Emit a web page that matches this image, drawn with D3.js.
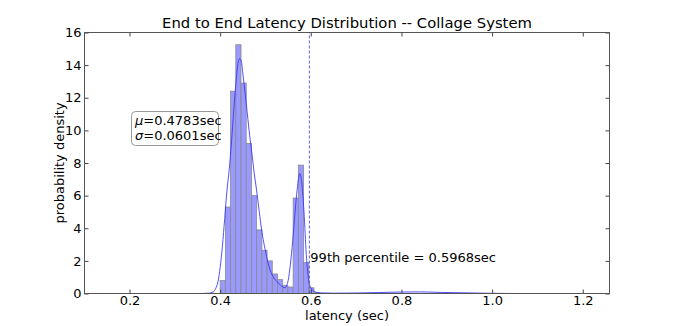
<!doctype html>
<html lang="en">
    <head>
        <meta charset="utf-8">
        <title>End to End Latency Distribution</title>
        <script src="https://cdn.jsdelivr.net/npm/d3@7"></script>
        <style>
            body { margin: 0; background: #fff; }
            text { font-family: "DejaVu Sans", sans-serif; fill: #000; }
        </style>
    </head>
    <body>
        <script>
            // histogram: bins of equal width starting at binStart
            var binStart = 0.400;
            var binWidth = 0.0115;
            var density = [0.8, 5.3, 12.4, 15.25, 12.9, 9.2, 6.0, 3.9, 2.65, 2.0,
                           1.2, 0.85, 0.5, 0.4, 5.85, 7.87, 1.9, 0.35, 0.05];
            // smoothed density curve
            var kdeX = [0.10, 0.36, 0.375, 0.385, 0.39, 0.395, 0.40, 0.405, 0.41, 0.415, 0.42, 0.425,
                        0.43, 0.435, 0.44, 0.443, 0.447, 0.45, 0.455, 0.46, 0.465, 0.47, 0.475,
                        0.48, 0.485, 0.49, 0.495, 0.50, 0.505, 0.51, 0.52, 0.53, 0.543, 0.55,
                        0.555, 0.56, 0.565, 0.57, 0.5757, 0.58, 0.585, 0.59, 0.595, 0.60, 0.61,
                        0.62, 0.65, 0.70, 0.75, 0.80, 0.84, 0.88, 0.92, 0.96, 1.0, 1.05, 1.259];
            var kdeY = [0, 0, 0.02, 0.1, 0.3, 0.7, 1.6, 2.9, 4.6, 6.3, 7.6, 9.3,
                        11.2, 13.0, 14.2, 14.4, 14.2, 13.5, 12.3, 11.0, 9.7, 8.6, 7.4,
                        6.4, 5.3, 4.2, 3.3, 2.6, 1.95, 1.45, 0.9, 0.6, 0.35, 0.8,
                        1.8, 3.2, 4.9, 6.4, 7.36, 6.8, 5.0, 2.4, 0.9, 0.35, 0.1,
                        0.04, 0.02, 0.03, 0.06, 0.09, 0.1, 0.07, 0.05, 0.03, 0.01, 0, 0];
            var xTicks = [0.2, 0.4, 0.6, 0.8, 1.0, 1.2];
            var yTicks = [0, 2, 4, 6, 8, 10, 12, 14, 16];
            var pct99 = 0.5968;
            var mu = "0.4783", sigma = "0.0601";

            var svgW = 677, svgH = 326;
            var margin = {top: 32.5, right: 67.5, bottom: 32.5, left: 84.5};

            var xScale = d3.scaleLinear()
                           .domain([0.1007, 1.259])
                           .range([margin.left, svgW - margin.right]);
            var yScale = d3.scaleLinear()
                           .domain([0, 16])
                           .range([svgH - margin.bottom, margin.top]);

            var svg = d3.select("body")
                        .append("svg")
                        .attr("width", svgW)
                        .attr("height", svgH);

            var plot = svg.append("g");
            plot.append("clipPath").attr("id", "clip")
                .append("rect")
                .attr("x", margin.left).attr("y", margin.top)
                .attr("width", xScale.range()[1] - margin.left)
                .attr("height", yScale.range()[0] - margin.top);

            var inner = plot.append("g").attr("clip-path", "url(#clip)");

            inner.selectAll("rect.bar")
                 .data(density)
                 .enter()
                 .append("rect")
                 .attr("class", "bar")
                 .attr("x", (d, i) => xScale(binStart + i * binWidth))
                 .attr("y", d => yScale(d))
                 .attr("width", xScale(binStart + binWidth) - xScale(binStart))
                 .attr("height", d => yScale(0) - yScale(d))
                 .attr("fill", "#9999ff")
                 .attr("stroke", "#8a8a8a")
                 .attr("stroke-width", 0.8);

            var kde = d3.zip(kdeX, kdeY);
            var line = d3.line()
                         .x(d => xScale(d[0]))
                         .y(d => yScale(d[1]))
                         .curve(d3.curveMonotoneX);
            inner.append("path")
                 .datum(kde)
                 .attr("d", line)
                 .attr("fill", "none")
                 .attr("stroke", "#3333ff")
                 .attr("stroke-opacity", 0.85)
                 .attr("stroke-width", 1);

            inner.append("line")
                 .attr("x1", xScale(pct99)).attr("x2", xScale(pct99))
                 .attr("y1", yScale(0)).attr("y2", yScale(16))
                 .attr("stroke", "#4d4dcc")
                 .attr("stroke-width", 0.9)
                 .attr("stroke-dasharray", "3,2");

            // axes with inward ticks on all four sides
            var x0 = xScale.range()[0], x1 = xScale.range()[1];
            var y0 = yScale.range()[0], y1 = yScale.range()[1];

            svg.append("g")
               .attr("transform", "translate(0," + y0 + ")")
               .call(d3.axisBottom(xScale).tickValues(xTicks).tickFormat(d3.format(".1f")).tickSizeInner(-4).tickSizeOuter(0).tickPadding(2))
               .call(g => g.select(".domain").remove());
            svg.append("g")
               .attr("transform", "translate(0," + y1 + ")")
               .call(d3.axisTop(xScale).tickValues(xTicks).tickFormat("").tickSizeInner(-4).tickSizeOuter(0))
               .call(g => g.select(".domain").remove());
            svg.append("g")
               .attr("transform", "translate(" + x0 + ",0)")
               .call(d3.axisLeft(yScale).tickValues(yTicks).tickSizeInner(-4).tickSizeOuter(0).tickPadding(3))
               .call(g => g.select(".domain").remove());
            svg.append("g")
               .attr("transform", "translate(" + x1 + ",0)")
               .call(d3.axisRight(yScale).tickValues(yTicks).tickFormat("").tickSizeInner(-4).tickSizeOuter(0))
               .call(g => g.select(".domain").remove());

            svg.selectAll(".tick text")
               .attr("font-size", "13px")
               .attr("font-family", "DejaVu Sans, sans-serif")
               .attr("fill", "#000");
            svg.selectAll(".tick line").attr("stroke", "#444");

            svg.append("rect")
               .attr("x", x0).attr("y", y1)
               .attr("width", x1 - x0).attr("height", y0 - y1)
               .attr("fill", "none")
               .attr("stroke", "#555")
               .attr("stroke-width", 1);

            svg.append("text")
               .attr("x", (x0 + x1) / 2)
               .attr("y", 28)
               .attr("text-anchor", "middle")
               .attr("font-size", "14.8px")
               .text("End to End Latency Distribution -- Collage System");

            svg.append("text")
               .attr("x", (x0 + x1) / 2)
               .attr("y", 320)
               .attr("text-anchor", "middle")
               .attr("font-size", "13px")
               .text("latency (sec)");

            svg.append("text")
               .attr("transform", "translate(64," + (y0 + y1) / 2 + ") rotate(-90)")
               .attr("text-anchor", "middle")
               .attr("font-size", "13px")
               .text("probability density");

            svg.append("text")
               .attr("x", xScale(pct99) + 1)
               .attr("y", 262)
               .attr("font-size", "13px")
               .text("99th percentile = " + pct99 + "sec");

            // stats box
            var box = svg.append("g");
            box.append("rect")
               .attr("x", 131.5).attr("y", 111.5)
               .attr("width", 87).attr("height", 34)
               .attr("rx", 4)
               .attr("fill", "#fff")
               .attr("stroke", "#999");
            var t1 = box.append("text").attr("x", 135).attr("y", 125).attr("font-size", "13px");
            t1.append("tspan").attr("font-style", "italic").text("\u03bc");
            t1.append("tspan").text("=" + mu + "sec");
            var t2 = box.append("text").attr("x", 135).attr("y", 139.5).attr("font-size", "13px");
            t2.append("tspan").attr("font-style", "italic").text("\u03c3");
            t2.append("tspan").text("=" + sigma + "sec");
        </script>
    </body>
</html>
